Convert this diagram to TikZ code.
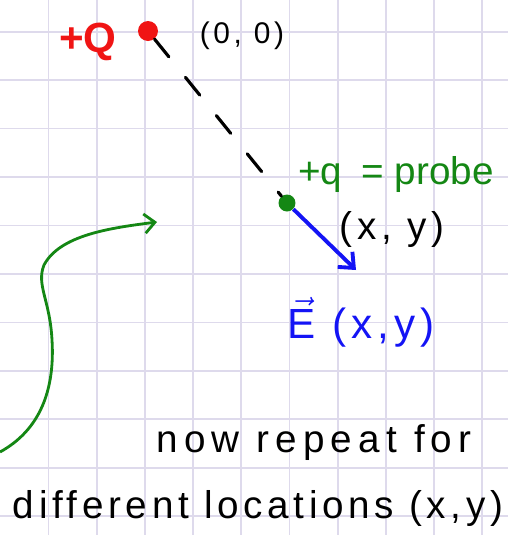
\documentclass[tikz,border=0pt]{standalone}
\usepackage{fontspec}
\setmainfont{Liberation Sans}
\usetikzlibrary{arrows.meta,positioning}

\definecolor{gridlav}{RGB}{222,218,236}
\definecolor{penred}{RGB}{240,20,20}
\definecolor{pengreen}{RGB}{20,135,20}
\definecolor{penblue}{RGB}{20,20,245}

\begin{document}
\begin{tikzpicture}[
  x=0.02cm, y=-0.02cm,
  gridline/.style={gridlav, line width=1pt},
  chargedot/.style={circle, inner sep=0pt, minimum size=0.4cm},
  hand/.style={font=\fontsize{22}{24}\selectfont\addfontfeature{LetterSpace=12}},
  fieldline/.style={line width=1.8pt, line cap=round, dash pattern=on 13pt off 15pt},
  fieldarrow/.style={penblue, line width=2.2pt, -{Straight Barb[length=7pt, width=12pt]}},
  swoop/.style={pengreen, line width=1.6pt, -{Straight Barb[length=6pt, width=11pt]}}
]
  \useasboundingbox (0,0) rectangle (508,535);
  \fill[white] (0,0) rectangle (508,535);
  \foreach \k in {0,...,9}
    \draw[gridline] ({48.5+48.2*\k},0) -- ++(0,535);
  \foreach \k in {0,...,10}
    \draw[gridline] (0,{31.7+48.45*\k}) -- ++(508,0);

  % source charge and probe
  \node[chargedot, fill=penred] (Q) at (148,31) {};
  \node[penred, font=\fontsize{24}{26}\selectfont\bfseries] (Qlabel) at (88,42) {+Q};
  \node[hand, font=\fontsize{17}{20}\selectfont\addfontfeature{LetterSpace=12}] (origin) at (242,36) {(0, 0)};
  \node[chargedot, fill=pengreen, minimum size=0.34cm] (q) at (287,203) {};
  \node[pengreen, font=\fontsize{22}{24}\selectfont] (qlabel) at (396,175) {+q\enspace= probe};
  \node[hand] (qpos) at (392,230) {(x, y)};
  \draw[fieldline] (Q) -- (q);

  % field vector
  \coordinate (Etip) at (356,270);
  \draw[fieldarrow] (q) -- (Etip);
  \node[hand, penblue, font=\fontsize{24}{26}\selectfont\addfontfeature{LetterSpace=12}] (Elabel) at (361,322) {$\vec{\textrm{E}}$ (x,y)};

  % repeat
  \coordinate (swoopstart) at (0,452);
  \coordinate (swoopend) at (157,222);
  \draw[swoop] (swoopstart) .. controls (40,430) and (55,390) .. (52,340)
    .. controls (50,300) and (36,285) .. (44,265)
    .. controls (60,235) and (110,228) .. (swoopend);
  \node[hand, font=\fontsize{22}{24}\selectfont\addfontfeature{LetterSpace=16}] (repeat) at (314,443) {now repeat for};
  \node[hand] (locations) at (258,508) {different locations (x,y)};
\end{tikzpicture}
\end{document}
